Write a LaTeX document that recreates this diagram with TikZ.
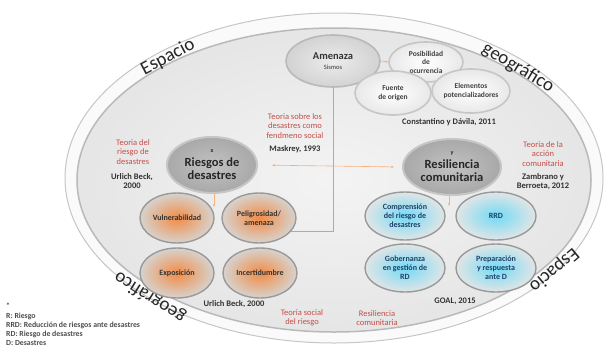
\documentclass[tikz,border=0pt]{standalone}
\usepackage{fontspec}
\setmainfont{Carlito}
\usetikzlibrary{shapes.geometric,arrows.meta}

\definecolor{rojo}{RGB}{196,78,72}
\definecolor{naranja}{RGB}{242,140,70}
\definecolor{celeste}{RGB}{115,218,246}
\definecolor{azulosc}{RGB}{30,65,105}

\tikzset{
  bola/.style={ellipse, inner sep=0pt, align=center, line width=1.4pt},
  bolaN/.style={bola, draw=gray!80, inner color=naranja, outer color=brown!20!gray!35,
    minimum width=74pt, minimum height=50pt, font=\bfseries\fontsize{8}{9}\selectfont, text=black!80},
  bolaA/.style={bola, draw=gray!80, inner color=celeste, outer color=cyan!8!gray!22,
    minimum width=80pt, minimum height=48pt, font=\bfseries\fontsize{8}{9}\selectfont, text=azulosc},
  bolaG/.style={bola, draw=gray!45, line width=2pt, inner color=gray!48, outer color=gray!68,
    minimum height=56pt, font=\bfseries\fontsize{12.5}{13}\selectfont, text=black!85},
  bolaC/.style={bola, draw=gray!45, line width=1.6pt, inner color=white, outer color=gray!18,
    font=\bfseries\fontsize{7.5}{8.5}\selectfont, text=black!75},
  rojotxt/.style={align=center, text=rojo, font=\fontsize{8.5}{9.3}\selectfont},
  reftxt/.style={align=center, text=black!80, font=\bfseries\fontsize{8.5}{9}\selectfont},
  borde/.style={inner sep=0pt, font=\fontsize{19}{20}\selectfont, text=black!85},
  flecha/.style={draw=naranja!70, line width=0.6pt, -{Stealth[length=3pt]}},
  linea/.style={draw=gray!60!blue!50, line width=0.6pt},
}

\begin{document}
\begin{tikzpicture}[x=1pt,y=-1pt]
\useasboundingbox (0,0) rectangle (604,351);

% ===== Espacio geografico (fondo) =====
\draw[gray!45, line width=1pt, fill=gray!4] (334,178) ellipse [x radius=269pt, y radius=165pt];
\draw[gray!55, line width=1.5pt, inner color=gray!9, outer color=gray!20] (334,180) ellipse [x radius=257pt, y radius=152pt];

% Texto del borde
\node[borde, rotate=28] (esp1) at (168,57) {Espacio};
\node[borde, rotate=-31] (geo1) at (518,68) {geográfico};
\node[borde, rotate=148] (geo2) at (150,297) {geográfico};
\node[borde, rotate=220] (esp2) at (554,270) {Espacio};

% ===== Amenaza =====
\node[bolaC, draw=gray!55, inner color=gray!15, outer color=gray!35, minimum width=94pt, minimum height=52pt,
  font=\bfseries\fontsize{10.5}{11}\selectfont, text=black!80] (amenaza) at (333,61)
  {Amenaza\\[-1pt]{\mdseries\fontsize{6.5}{7}\selectfont Sismos}};
\node[bolaC, minimum width=74pt, minimum height=40pt] (posib) at (426,62) {Posibilidad\\de\\ocurrencia};
\node[bolaC, minimum width=76pt, minimum height=44pt] (fuente) at (393,93) {Fuente\\de origen};
\node[bolaC, minimum width=78pt, minimum height=44pt] (elem) at (471,91) {Elementos\\potencializadores};
\node[reftxt] (constantino) at (449,122) {Constantino y Dávila, 2011};

% ===== Riesgos de desastres =====
\node[bolaG, minimum width=90pt] (riesgos) at (212,165)
  {{\fontsize{6}{6}\selectfont x}\\[1pt]Riesgos de\\desastres};
\node[bolaN] (vulner) at (177,218) {Vulnerabilidad};
\node[bolaN] (peligro) at (259,218) {Peligrosidad/\\amenaza};
\node[bolaN] (expos) at (177,273) {Exposición};
\node[bolaN] (incert) at (260,273) {Incertidumbre};
\node[reftxt] (beck2) at (234,304) {Urlich Beck, 2000};

% ===== Resiliencia comunitaria =====
\node[bolaG, minimum width=98pt] (resil) at (452,167)
  {{\fontsize{6}{6}\selectfont y}\\[1pt]Resiliencia\\comunitaria};
\node[bolaA] (compren) at (405,216) {Comprensión\\del riesgo de\\desastres};
\node[bolaA] (rrd) at (496,216) {RRD};
\node[bolaA] (gobern) at (405,268) {Gobernanza\\en gestión de\\RD};
\node[bolaA] (prepar) at (496,268) {Preparación\\y respuesta\\ante D};
\node[reftxt] (goal) at (455,301) {GOAL, 2015};

% ===== Teorias =====
\node[rojotxt] (teo1) at (133,152) {Teoria del\\riesgo de\\desastres};
\node[reftxt] (beck1) at (132,181) {Urlich Beck,\\2000};
\node[rojotxt] (teo2) at (295,126) {Teoria sobre los\\desastres como\\fendmeno social};
\node[reftxt, anchor=north] (maskrey) at (teo2.south) {Maskrey, 1993};
\node[rojotxt] (teo3) at (543,154) {Teoria de la\\acción\\comunitaria};
\node[reftxt, anchor=north] (zambrano) at (teo3.south) {Zambrano y\\Berroeta, 2012};
\node[rojotxt] (teo4) at (302,318) {Teoria social\\del riesgo};
\node[rojotxt] (teo5) at (377,318) {Resiliencia\\comunitaria};

% ===== Conectores =====
\coordinate (rbaja) at (214,207);
\coordinate (sbaja) at (449,206);
\draw[flecha] (amenaza.east) -- (posib.west);
\draw[linea] (amenaza.south) |- (peligro.-22);
\draw[flecha, {Stealth[length=3pt]}-{Stealth[length=3pt]}, shorten <=14pt, shorten >=8pt] (riesgos.east) -- (resil.west);
\draw[flecha] (riesgos.south -| rbaja) -- (rbaja);
\draw[flecha] (resil.south -| sbaja) -- (sbaja);

% ===== Leyenda =====
\node[anchor=north west, align=left, inner sep=0pt, text=black!70,
  font=\bfseries\fontsize{7.8}{9.3}\selectfont] (leyenda) at (6,303)
  {*\\R: Riesgo\\RRD: Reducción de riesgos ante desastres\\RD: Riesgo de desastres\\D: Desastres};

\end{tikzpicture}
\end{document}
